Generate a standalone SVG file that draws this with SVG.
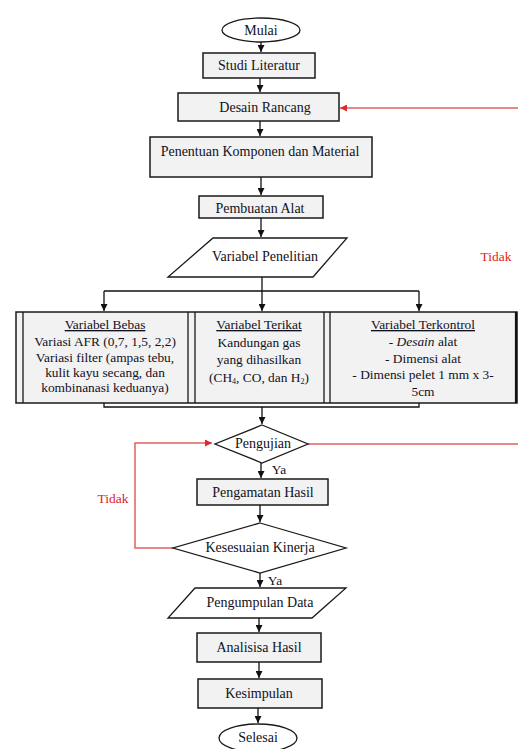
<svg xmlns="http://www.w3.org/2000/svg" width="518" height="749" viewBox="0 0 518 749">
<defs>
<marker id="ah" viewBox="0 0 10 10" refX="10" refY="5" markerWidth="7" markerHeight="7" markerUnits="userSpaceOnUse" orient="auto"><path d="M0,0 L10,5 L0,10 z" fill="#111"/></marker>
<marker id="ahr" viewBox="0 0 10 10" refX="10" refY="5" markerWidth="7" markerHeight="7" markerUnits="userSpaceOnUse" orient="auto"><path d="M0,0 L10,5 L0,10 z" fill="#e02a2a"/></marker>
<style>
.box{fill:#f2f2f2;stroke:#1a1a1a;stroke-width:1.5}
.shp{fill:#fff;stroke:#1a1a1a;stroke-width:1.3}
.t{font-family:"Liberation Serif","Times New Roman",serif;font-size:14px;fill:#111122;text-anchor:middle}
.s{font-size:13.4px}
.red{fill:#e02020}
.c{fill:none;stroke:#111;stroke-width:1.3}
.cr{fill:none;stroke:#e06060;stroke-width:1.5}
.tl{fill:none;stroke:#1a1a1a;stroke-width:1.3}
</style>
</defs>
<rect width="518" height="749" fill="#fff"/>
<g id="connectors">
<path class="c" d="M261,42 V52" marker-end="url(#ah)"/>
<path class="c" d="M260,78 V92" marker-end="url(#ah)"/>
<path class="c" d="M260,121 V136" marker-end="url(#ah)"/>
<path class="c" d="M261,177 V195" marker-end="url(#ah)"/>
<path class="c" d="M261,218 V237" marker-end="url(#ah)"/>
<path class="c" d="M262,277 V291"/>
<path class="c" d="M104,291 H419"/>
<path class="c" d="M104,291 V311" marker-end="url(#ah)"/>
<path class="c" d="M262,291 V311" marker-end="url(#ah)"/>
<path class="c" d="M419,291 V311" marker-end="url(#ah)"/>
<path class="c" d="M104,403 V407 H419 V403"/>
<path class="c" d="M262,407 V424" marker-end="url(#ah)"/>
<path class="c" d="M261,463 V478" marker-end="url(#ah)"/>
<path class="c" d="M260,505 V522" marker-end="url(#ah)"/>
<path class="c" d="M260,573 V587" marker-end="url(#ah)"/>
<path class="c" d="M259,618 V632" marker-end="url(#ah)"/>
<path class="c" d="M259,662 V678" marker-end="url(#ah)"/>
<path class="c" d="M258,708 V723" marker-end="url(#ah)"/>
<path class="cr" d="M518,108 H340" marker-end="url(#ahr)"/>
<path class="cr" d="M308,444 H518"/>
<path class="cr" d="M173,548 H135 V443 H212" marker-end="url(#ahr)"/>
<text class="t s" x="279" y="474">Ya</text>
<text class="t s" x="275" y="585">Ya</text>
<text class="t s red" x="496" y="261">Tidak</text>
<text class="t s red" x="113" y="503">Tidak</text>
</g>
<g id="mulai">
<ellipse class="shp" cx="261" cy="30" rx="39" ry="12"/>
<text class="t" x="261" y="35">Mulai</text>
</g>
<g id="studi">
<rect class="box" x="203" y="53" width="112" height="25"/>
<text class="t" x="259" y="70">Studi Literatur</text>
</g>
<g id="desain">
<rect class="box" x="178" y="93" width="161" height="28"/>
<text class="t" x="265" y="112">Desain Rancang</text>
</g>
<g id="penentuan">
<rect class="box" x="150" y="137" width="222" height="40"/>
<text class="t" x="260" y="156">Penentuan Komponen dan Material</text>
</g>
<g id="pembuatan">
<rect class="box" x="199" y="196" width="124" height="22"/>
<text class="t" x="260" y="213">Pembuatan Alat</text>
</g>
<g id="variabel-penelitian">
<polygon class="shp" points="213,238 347,238 313,277 168,277"/>
<text class="t" x="265" y="261">Variabel Penelitian</text>
</g>
<g id="tabel-variabel">
<rect x="16" y="312" width="501" height="91" fill="#f2f2f2" stroke="#1a1a1a" stroke-width="1.5"/>
<path class="tl" d="M23,312 V403 M188,312 V403 M195,312 V403 M324,312 V403 M330,312 V403"/>
<path d="M516,312 V403" stroke="#111" stroke-width="2.2"/>
<text class="t s" x="105" y="329" text-decoration="underline">Variabel Bebas</text>
<text class="t s" x="105" y="345.5">Variasi AFR (0,7, 1,5, 2,2)</text>
<text class="t s" x="105" y="362">Variasi filter (ampas tebu,</text>
<text class="t s" x="105" y="377">kulit kayu secang, dan</text>
<text class="t s" x="105" y="392">kombinanasi keduanya)</text>
<text class="t s" x="259" y="329" text-decoration="underline">Variabel Terikat</text>
<text class="t s" x="259" y="347">Kandungan gas</text>
<text class="t s" x="259" y="364">yang dihasilkan</text>
<text class="t s" x="259" y="382">(CH<tspan font-size="8" dy="2">4</tspan><tspan dy="-2">, CO, dan H</tspan><tspan font-size="8" dy="2">2</tspan><tspan dy="-2">)</tspan></text>
<text class="t s" x="423" y="329" text-decoration="underline">Variabel Terkontrol</text>
<text class="t s" x="423" y="345.5">- <tspan font-style="italic">Desain</tspan>  alat</text>
<text class="t s" x="423" y="363">- Dimensi alat</text>
<text class="t s" x="423" y="379">- Dimensi pelet 1 mm x 3-</text>
<text class="t s" x="423" y="396">5cm</text>
</g>
<g id="pengujian">
<polygon class="shp" points="262,425 308,444 262,463 215,444"/>
<text class="t" x="263" y="448">Pengujian</text>
</g>
<g id="pengamatan">
<rect class="box" x="197" y="479" width="131" height="26"/>
<text class="t" x="263" y="497">Pengamatan Hasil</text>
</g>
<g id="kesesuaian">
<polygon class="shp" points="260,523 346,548 260,573 173,548"/>
<text class="t" x="260" y="552">Kesesuaian Kinerja</text>
</g>
<g id="pengumpulan">
<polygon class="shp" points="195,588 346,588 312,618 168,618"/>
<text class="t" x="260" y="607">Pengumpulan Data</text>
</g>
<g id="analisis">
<rect class="box" x="197" y="633" width="124" height="29"/>
<text class="t" x="259" y="652">Analisisa Hasil</text>
</g>
<g id="kesimpulan">
<rect class="box" x="198" y="679" width="124" height="29"/>
<text class="t" x="259" y="698">Kesimpulan</text>
</g>
<g id="selesai">
<ellipse class="shp" cx="258" cy="738" rx="39" ry="14"/>
<text class="t" x="258" y="742">Selesai</text>
</g>
</svg>
